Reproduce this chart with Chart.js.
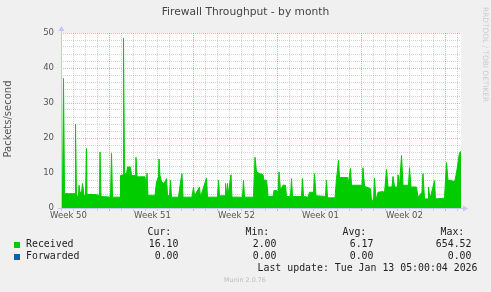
<!DOCTYPE html>
<html>
<head>
<meta charset="utf-8">
<title>Firewall Throughput - by month</title>
<script src="https://cdn.jsdelivr.net/npm/chart.js@4.4.1/dist/chart.umd.min.js"></script>
<style>
  html, body { margin: 0; padding: 0; background: #f0f0f0; }
  #wrap { width: 491px; height: 292px; }
</style>
</head>
<body>
<div id="wrap"><canvas id="chart" width="491" height="292"></canvas></div>
<script>
// x values are hours from the left edge of the graph (800 h shown)
const receivedHours = [
    0, 3, 5, 7, 28, 29, 31, 35, 36, 38,
    41, 43, 46, 49, 51, 52, 71, 77, 78, 80,
    99, 101, 103, 118, 119, 124, 125, 127, 131, 133,
    139, 141, 149, 150, 152, 168, 170, 172, 174, 188,
    191, 195, 196, 198, 201, 206, 211, 213, 217, 219,
    221, 235, 239, 242, 244, 262, 265, 267, 277, 279,
    291, 293, 313, 315, 317, 328, 329, 331, 333, 334,
    340, 342, 363, 365, 367, 385, 388, 391, 398, 404,
    406, 411, 413, 414, 424, 426, 431, 434, 436, 439,
    444, 449, 451, 459, 461, 463, 481, 483, 485, 494,
    497, 505, 507, 510, 529, 531, 533, 548, 551, 555,
    557, 573, 574, 579, 581, 602, 604, 607, 619, 621,
    625, 627, 630, 634, 644, 647, 651, 654, 662, 664,
    667, 673, 674, 677, 681, 684, 695, 697, 700, 711,
    714, 722, 724, 727, 734, 735, 738, 747, 749, 767,
    771, 774, 782, 784, 788, 791, 795, 797, 799, 800
];
const receivedValues = [
    3.9, 3.9, 37, 4.1, 4.1, 24, 3.4, 3.4, 6.5, 4.5,
    4.2, 7, 3.6, 3.6, 17, 3.9, 3.8, 3.6, 16, 3.3,
    3.1, 15.6, 3.1, 3.1, 9.3, 9.5, 48.6, 9.8, 9.8, 11.7,
    11.7, 9.3, 9.3, 14.5, 8.9, 8.9, 5.5, 10, 3.6, 3.6,
    7.4, 9, 14, 9.3, 7.4, 7, 8.4, 3.6, 3.6, 7.9,
    3.1, 3.1, 7.4, 9.8, 3.1, 3.1, 6, 3.5, 6, 3.1,
    8.6, 3.1, 3.1, 7.9, 3.5, 3.5, 7, 3.5, 7, 3.5,
    9.5, 3.1, 3.1, 7.9, 3.1, 3.1, 14.5, 10.3, 9.8, 9.5,
    7.9, 7.9, 5.5, 3.3, 3.3, 5, 5, 4.5, 10.3, 5,
    6.5, 6.5, 3.3, 3.3, 8.4, 3.3, 3.3, 8.4, 3.3, 3.1,
    4.5, 4.5, 9.8, 3.5, 3.3, 7.9, 2.9, 2.9, 8.4, 13.6,
    8.7, 8.7, 6.5, 11.3, 6.5, 6.5, 11.5, 6.2, 5.5, 2.2,
    2.2, 8.5, 2.2, 4.5, 4.7, 4.3, 11, 6, 6, 9,
    6, 6, 9.5, 6.2, 15, 6.5, 6.5, 11.5, 6, 6,
    3.1, 4.5, 9.8, 2.6, 2.6, 6, 2.6, 7.8, 2.6, 2.8,
    13, 7.9, 7.9, 7.4, 7.9, 10, 14, 15.7, 16.1, 16.1
];
const forwardedHours = [0, 800];
const forwardedValues = [0, 0];

const weekLabels = ['Week 50', 'Week 51', 'Week 52', 'Week 01', 'Week 02'];
const weekLabelHours = [15, 183, 351, 519, 687];
const weekStartHours = [96.5, 264.5, 432.5, 600.5, 768.5];
const firstMidnight = 0.5;

const legendNames = ['Received', 'Forwarded'];
const legendColors = ['#00cc00', '#0066b3'];
const curValues = [16.10, 0.00];
const minValues = [2.00, 0.00];
const avgValues = [6.17, 0.00];
const maxValues = [654.52, 0.00];
const lastUpdate = 'Last update: Tue Jan 13 05:00:04 2026';

const FONT = '"DejaVu Sans", sans-serif';
const MONO = '"DejaVu Sans Mono", monospace';
const RED = 'rgba(235, 70, 70, 0.45)';
const GRAY = 'rgba(150, 150, 150, 0.42)';
const AXIS = '#c0c8f4';

// midnight grid lines, one per day
const dayLines = [];
for (let h = firstMidnight; h <= 800; h += 24) dayLines.push(h);
const yLines = [];
for (let v = 0; v <= 50; v += 2) yLines.push(v);

const toPoints = (xs, ys) => xs.map((x, i) => ({x: x, y: ys[i]}));

const muninDecor = {
    id: 'muninDecor',
    beforeDraw(chart) {
        const ctx = chart.ctx, a = chart.chartArea;
        ctx.save();
        ctx.fillStyle = '#f0f0f0';
        ctx.fillRect(0, 0, chart.width, chart.height);
        ctx.fillStyle = '#ffffff';
        ctx.fillRect(a.left, a.top, a.right - a.left, a.bottom - a.top);
        ctx.restore();
    },
    afterDraw(chart) {
        const ctx = chart.ctx, a = chart.chartArea;
        ctx.save();

        // axes with arrow heads
        ctx.strokeStyle = AXIS;
        ctx.fillStyle = AXIS;
        ctx.lineWidth = 1;
        ctx.beginPath();
        ctx.moveTo(a.left + 0.5, a.bottom + 3);
        ctx.lineTo(a.left + 0.5, a.top - 3);
        ctx.moveTo(a.left - 3, a.bottom + 0.5);
        ctx.lineTo(a.right + 3, a.bottom + 0.5);
        ctx.stroke();
        ctx.beginPath();
        ctx.moveTo(a.left + 0.5, a.top - 7);
        ctx.lineTo(a.left - 2.5, a.top - 2);
        ctx.lineTo(a.left + 3.5, a.top - 2);
        ctx.fill();
        ctx.beginPath();
        ctx.moveTo(a.right + 7, a.bottom + 0.5);
        ctx.lineTo(a.right + 2, a.bottom - 2.5);
        ctx.lineTo(a.right + 2, a.bottom + 3.5);
        ctx.fill();

        // title and axis title
        ctx.fillStyle = '#444';
        ctx.textAlign = 'center';
        ctx.textBaseline = 'middle';
        ctx.font = '10.7px ' + FONT;
        ctx.fillText('Firewall Throughput - by month', 245.5, 12);
        ctx.save();
        ctx.translate(8.5, 119);
        ctx.rotate(-Math.PI / 2);
        ctx.font = '10px ' + FONT;
        ctx.fillStyle = '#555';
        ctx.fillText('Packets/second', 0, 0);
        ctx.restore();

        // watermark on the right
        ctx.save();
        ctx.translate(485, 7);
        ctx.rotate(Math.PI / 2);
        ctx.textAlign = 'left';
        ctx.font = '7.4px ' + FONT;
        ctx.fillStyle = '#cccccc';
        ctx.fillText('RRDTOOL / TOBI OETIKER', 0, 0);
        ctx.restore();

        // legend table
        ctx.font = '9.9px ' + MONO;
        ctx.fillStyle = '#222';
        ctx.textAlign = 'left';
        ctx.fillText('Cur:', 147.5, 232.7);
        ctx.fillText('Min:', 245.5, 232.7);
        ctx.fillText('Avg:', 342.5, 232.7);
        ctx.fillText('Max:', 440.5, 232.7);
        legendNames.forEach((name, i) => {
            const y = 244.3 + i * 12;
            ctx.fillStyle = legendColors[i];
            ctx.fillRect(14, y - 2.3, 6, 6);
            ctx.fillStyle = '#222';
            ctx.textAlign = 'left';
            ctx.fillText(name, 26, y);
            ctx.textAlign = 'right';
            ctx.fillText(curValues[i].toFixed(2), 178.5, y);
            ctx.fillText(minValues[i].toFixed(2), 276.5, y);
            ctx.fillText(avgValues[i].toFixed(2), 373.5, y);
            ctx.fillText(maxValues[i].toFixed(2), 471.5, y);
        });
        ctx.textAlign = 'right';
        ctx.fillText(lastUpdate, 477.5, 268.7);

        ctx.textAlign = 'center';
        ctx.font = '6.4px ' + FONT;
        ctx.fillStyle = '#bbbbbb';
        ctx.fillText('Munin 2.0.76', 245, 280.3);
        ctx.restore();
    }
};

const ctx = document.getElementById('chart').getContext('2d');
const chart = new Chart(ctx, {
    type: 'line',
    data: {
        datasets: [{
            label: 'Received',
            data: toPoints(receivedHours, receivedValues),
            borderColor: '#00cc00',
            backgroundColor: '#00cc00',
            borderWidth: 1,
            fill: 'origin',
            pointRadius: 0,
            tension: 0
        }, {
            label: 'Forwarded',
            data: toPoints(forwardedHours, forwardedValues),
            borderColor: '#0066b3',
            borderWidth: 1,
            fill: false,
            pointRadius: 0
        }]
    },
    options: {
        responsive: false,
        animation: false,
        devicePixelRatio: 1,
        layout: { padding: { top: 33, right: 30, bottom: 70, left: 0 } },
        plugins: {
            legend: { display: false },
            title: { display: false },
            tooltip: { enabled: false }
        },
        scales: {
            x: {
                type: 'linear',
                min: 0,
                max: 800,
                weight: 0,
                z: 1,
                afterBuildTicks: s => { s.ticks = dayLines.map(v => ({value: v})); },
                afterFit: s => { s.height = 0; },
                ticks: { display: false },
                grid: {
                    color: c => weekStartHours.includes(c.tick.value) ? RED : GRAY,
                    drawTicks: true,
                    tickLength: 3
                },
                border: { display: false, dash: [1, 1] }
            },
            x2: {
                type: 'linear',
                position: 'bottom',
                min: 0,
                max: 800,
                weight: 1,
                afterBuildTicks: s => { s.ticks = weekLabelHours.map(v => ({value: v})); },
                afterFit: s => { s.height = 14; },
                grid: { display: false, drawTicks: false },
                border: { display: false },
                ticks: {
                    autoSkip: false,
                    maxRotation: 0,
                    padding: 3,
                    color: '#555',
                    font: { family: FONT, size: 8.5 },
                    callback: (v, i) => weekLabels[i]
                }
            },
            y: {
                min: 0,
                max: 50,
                z: 1,
                afterBuildTicks: s => { s.ticks = yLines.map(v => ({value: v})); },
                afterFit: s => { s.width = 61; },
                ticks: {
                    autoSkip: false,
                    padding: 7,
                    color: '#555',
                    font: { family: FONT, size: 8.5 },
                    callback: v => (v % 10 === 0 ? v : '')
                },
                grid: {
                    color: c => (c.tick.value % 10 === 0 ? RED : GRAY),
                    drawTicks: false
                },
                border: { display: false, dash: [1, 1] }
            }
        }
    },
    plugins: [muninDecor]
});
</script>
</body>
</html>
